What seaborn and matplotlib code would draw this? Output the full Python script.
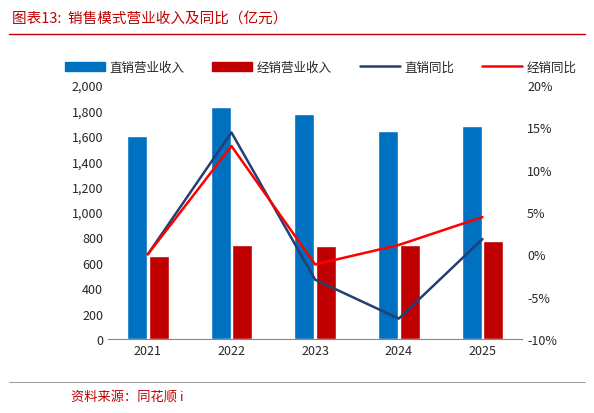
import seaborn as sns
import matplotlib.pyplot as plt
import pandas as pd
from matplotlib.lines import Line2D
from matplotlib.ticker import FuncFormatter

years = ['2021', '2022', '2023', '2024', '2025']
direct_rev = [1600, 1830, 1775, 1640, 1675]
dealer_rev = [655, 740, 735, 740, 770]
direct_yoy = [0.0, 14.4, -3.0, -7.6, 1.8]
dealer_yoy = [0.0, 12.8, -1.2, 1.1, 4.4]

sns.set_style('white')
plt.rcParams['font.family'] = ['Noto Sans CJK SC', 'DejaVu Sans']

df = pd.DataFrame({'year': years * 2,
                   'rev': direct_rev + dealer_rev,
                   'kind': ['直销营业收入'] * 5 + ['经销营业收入'] * 5})

fig = plt.figure(figsize=(5.94, 4.14), dpi=100)
ax = fig.add_axes([0.182, 0.179, 0.697, 0.613])
sns.barplot(data=df, x='year', y='rev', hue='kind', ax=ax, saturation=1,
            palette=['#0070C0', '#C00000'], width=0.52, gap=0.08, legend=False)
ax.set_ylim(0, 2000)
ax.set_yticks(range(0, 2001, 200))
ax.yaxis.set_major_formatter(FuncFormatter(lambda v, p: f'{int(v):,}'))
ax.set_xlabel('')
ax.set_ylabel('')
ax.tick_params(labelsize=9, length=0)
for s in ['top', 'right', 'left']:
    ax.spines[s].set_visible(False)
ax.spines['bottom'].set_color('#888888')

ax2 = ax.twinx()
ax2.plot(range(5), direct_yoy, color='#243F74', lw=1.8)
ax2.plot(range(5), dealer_yoy, color='#FF0000', lw=1.8)
ax2.set_ylim(-10, 20)
ax2.set_yticks(range(-10, 21, 5))
ax2.yaxis.set_major_formatter(FuncFormatter(lambda v, p: f'{int(v)}%'))
ax2.tick_params(labelsize=9, length=0)
for s in ['top', 'right', 'left', 'bottom']:
    ax2.spines[s].set_visible(False)

handles = [plt.Rectangle((0, 0), 1, 1, color='#0070C0'),
           plt.Rectangle((0, 0), 1, 1, color='#C00000'),
           Line2D([], [], color='#243F74', lw=1.8),
           Line2D([], [], color='#FF0000', lw=1.8)]
fig.legend(handles, ['直销营业收入', '经销营业收入', '直销同比', '经销同比'],
           loc='center', bbox_to_anchor=(0.54, 0.835), ncol=4, frameon=False,
           fontsize=9, handlelength=3.2, columnspacing=2.2, handletextpad=0.4)

fig.text(0.02, 0.955, '图表13:  销售模式营业收入及同比（亿元）', color='#C00000',
         fontsize=10.5, style='italic', va='center')
fig.add_artist(Line2D([0.015, 0.985], [0.915, 0.915], color='#C00000', lw=1))
fig.add_artist(Line2D([0.015, 0.985], [0.075, 0.075], color='#888888', lw=0.6))
fig.text(0.12, 0.04, '资料来源：同花顺 i', color='#C00000', fontsize=9.5,
         style='italic', va='center')

fig.savefig('out.png', dpi=100)
